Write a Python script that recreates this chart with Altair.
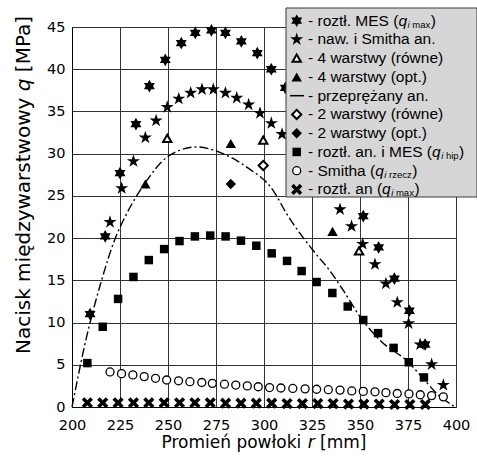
import altair as alt
import pandas as pd

# ---------------- data ----------------
mes_r = [209.4, 217.3, 225.0, 233.3, 240.3, 248.6, 256.9, 264.2, 272.6, 279.9, 288.2, 296.5, 303.8, 311.1,
         351.7, 359.7, 367.9, 375.7, 383.9]
mes_q = [11.0, 20.2, 27.7, 33.5, 38.0, 41.1, 43.1, 44.3, 44.6, 44.3, 43.3, 41.9, 40.0, 37.8,
         22.6, 18.9, 15.2, 11.4, 7.4]

nsa_r = [219.8, 225.9, 232.0, 238.2, 243.8, 249.6, 255.6, 261.8, 267.7, 273.6, 279.9, 285.8, 292.0, 297.9,
         303.8, 309.4, 339.6, 345.6, 351.4, 357.8, 363.5, 369.4, 375.3, 381.3, 387.3, 393.4]
nsa_q = [21.9, 25.9, 29.1, 31.9, 33.9, 35.5, 36.5, 37.2, 37.6, 37.6, 37.2, 36.6, 35.8, 34.8,
         33.6, 32.3, 23.4, 21.4, 19.3, 16.9, 14.6, 12.4, 9.9, 7.4, 5.05, 2.6]

w4eq_r = [249.6, 299.6, 349.5]
w4eq_q = [31.8, 31.6, 18.5]
w4opt_r = [238.2, 282.7, 335.7]
w4opt_q = [26.4, 31.2, 20.8]
w2eq_r = [299.6]
w2eq_q = [28.6]
w2opt_r = [282.7]
w2opt_q = [26.4]

pre_r = [200.0, 207.6, 215.4, 222.4, 228.5, 238.0, 249.6, 264.9, 275.3, 291.0, 304.9, 311.5, 325.7,
         334.4, 341.3, 350.0, 360.4, 375.2, 381.3, 390.0, 399.5]
pre_q = [0.0, 8.3, 15.0, 19.9, 22.9, 26.5, 29.6, 30.8, 30.3, 28.4, 25.6, 23.0, 18.5,
         16.1, 13.8, 10.7, 7.9, 5.3, 3.8, 1.6, 0.0]

hip_r = [208, 216, 224, 232, 240, 248, 256, 264, 272, 280, 288, 296, 304, 312, 319.6, 327.4, 335.6,
         343.6, 351.7, 359.4, 367.5, 375.4, 383.3]
hip_q = [5.2, 9.5, 12.8, 15.4, 17.4, 18.7, 19.65, 20.2, 20.3, 20.2, 19.7, 19.1, 18.2, 17.3, 16.1, 14.8, 13.5,
         11.9, 10.3, 8.75, 7.0, 5.3, 3.5]

rzecz_r = [219.8, 225.8, 231.7, 237.6, 243.5, 249.3, 255.5, 261.4, 267.6, 273.1, 279.4, 285.3, 291.3, 297.0,
           302.9, 308.8, 315.0, 321.4, 327.4, 333.5, 339.6, 345.7, 351.7, 357.8, 363.5, 369.4, 375.5, 381.4,
           387.3, 393.4]
rzecz_q = [4.15, 3.95, 3.8, 3.6, 3.4, 3.2, 3.1, 3.0, 2.9, 2.8, 2.7, 2.6, 2.5, 2.4,
           2.3, 2.25, 2.2, 2.15, 2.1, 2.05, 2.0, 1.9, 1.85, 1.8, 1.7, 1.6, 1.55, 1.45,
           1.35, 1.2]

qmax_r = [208, 216, 224, 232, 240, 248, 256, 264, 272, 280, 288, 296, 304, 312, 320, 328, 336,
          344, 352, 360, 368, 376, 384]
qmax_q = [0.5, 0.5, 0.5, 0.5, 0.5, 0.5, 0.5, 0.5, 0.5, 0.45, 0.45, 0.45, 0.45, 0.4, 0.4, 0.4, 0.4,
          0.35, 0.35, 0.35, 0.3, 0.3, 0.3]

x_ticks = [200, 225, 250, 275, 300, 325, 350, 375, 400]
y_ticks = [0, 5, 10, 15, 20, 25, 30, 35, 40, 45]

x_title = ["Promień powłoki ", "r", " [mm]"]
y_title = ["Nacisk międzywarstwowy ", "q", " [MPa]"]

legend_main = ["- roztł. MES (", "- naw. i Smitha an.", "- 4 warstwy (równe)", "- 4 warstwy (opt.)",
               "- przeprężany an.", "- 2 warstwy (równe)", "- 2 warstwy (opt.)",
               "- roztł. an. i MES (", "- Smitha (", "- roztł. an ("]
legend_sub = ["max", "", "", "", "", "", "", "hip", "rzecz", "max"]

# ---------------- styling ----------------
W, H = 384, 380
AX_FONT = "DejaVu Sans"
LG_FONT = "Liberation Sans"
GRID = "#333333"

HEXAGRAM = ("M0,-1L0.2887,-0.5L0.866,-0.5L0.577,0L0.866,0.5L0.2887,0.5L0,1L-0.2887,0.5"
            "L-0.866,0.5L-0.577,0L-0.866,-0.5L-0.2887,-0.5Z")
STAR5 = ("M0,-1L0.2245,-0.309L0.951,-0.309L0.363,0.118L0.588,0.809L0,0.382L-0.588,0.809"
         "L-0.363,0.118L-0.951,-0.309L-0.2245,-0.309Z")
XMARK = "M-1,-0.55L-0.55,-1L0,-0.45L0.55,-1L1,-0.55L0.45,0L1,0.55L0.55,1L0,0.45L-0.55,1L-1,0.55L-0.45,0Z"

xscale = alt.Scale(domain=[200, 400], nice=False, zero=False)
yscale = alt.Scale(domain=[0, 45], nice=False)
xaxis = alt.Axis(values=x_ticks, grid=True, ticks=False, labelPadding=11, labelFontSize=14.5,
                 labelFont=AX_FONT, labelColor="black", title=None, domainColor="black",
                 gridColor=GRID, gridOpacity=1, gridWidth=1, labelFlush=False)
yaxis = alt.Axis(values=y_ticks, grid=True, ticks=False, labelPadding=7, labelFontSize=14.5,
                 labelFont=AX_FONT, labelColor="black", title=None, domainColor="black",
                 gridColor=GRID, gridOpacity=1, gridWidth=1, labelFlush=False)


def enc(ch):
    return ch.encode(x=alt.X("r:Q", scale=xscale, axis=xaxis), y=alt.Y("q:Q", scale=yscale, axis=yaxis))


def pts(r, q, shape, size, open_=False, sw=1.6):
    df = pd.DataFrame({"r": r, "q": q})
    if open_:
        m = alt.Chart(df).mark_point(shape=shape, size=size, filled=True, fill="white", stroke="black",
                                     strokeWidth=sw, opacity=1)
    else:
        m = alt.Chart(df).mark_point(shape=shape, size=size, filled=True, fill="black", strokeWidth=0,
                                     opacity=1)
    return enc(m)


line = enc(alt.Chart(pd.DataFrame({"r": pre_r, "q": pre_q})).mark_line(
    color="black", strokeWidth=1.4, strokeDash=[9, 3, 2, 3], interpolate="monotone"))

layers = [
    line,
    pts(rzecz_r, rzecz_q, "circle", 64, open_=True, sw=1.3),
    pts(qmax_r, qmax_q, XMARK, 125),
    pts(hip_r, hip_q, "square", 72),
    pts(w2eq_r, w2eq_q, "diamond", 85, open_=True, sw=2),
    pts(w2opt_r, w2opt_q, "diamond", 110),
    pts(w4eq_r, w4eq_q, "triangle-up", 70, open_=True, sw=2),
    pts(w4opt_r, w4opt_q, "triangle-up", 110),
    pts(nsa_r, nsa_q, STAR5, 190),
    pts(mes_r, mes_q, HEXAGRAM, 160),
]

# ---------------- text width helpers (Arial / DejaVu metrics) ----------------
ARIAL = {' ': 278, '-': 333, '(': 333, ')': 333, '.': 278, '[': 278, ']': 278, 'a': 556, 'c': 500,
         'd': 556, 'e': 556, 'ę': 556, 'h': 556, 'i': 222, 'k': 500, 'l': 222, 'ł': 222, 'm': 833,
         'n': 556, 'o': 556, 'p': 556, 'q': 556, 'r': 333, 's': 500, 't': 278, 'w': 722, 'x': 500,
         'y': 500, 'z': 500, 'M': 833, 'E': 667, 'S': 667}
DEJAVU = {' ': 318, '[': 390, ']': 390, 'P': 603, 'r': 411, 'o': 612, 'm': 974, 'i': 278, 'e': 615,
          'ń': 634, 'p': 635, 'w': 818, 'ł': 300, 'k': 579, 'N': 748, 'a': 613, 'c': 550, 's': 521,
          'ę': 615, 'd': 635, 'z': 525, 'y': 592, 't': 392, 'q': 635, 'M': 863}


def tw(s, size, table):
    return sum(table.get(c, 556) for c in s) * size / 1000.0


text_rows = []  # x, y, t, fs, style, angle, font


def add_piece(x, y, s, fs, style, ang, font, table):
    """Add a text piece; leading/trailing spaces are turned into offsets (SVG drops them)."""
    lead = len(s) - len(s.lstrip(" "))
    off = tw(s[:lead], fs, table)
    if ang == 0:
        text_rows.append((x + off, y, s.strip(" "), fs, style, ang, font))
    else:
        text_rows.append((x, y - off, s.strip(" "), fs, style, ang, font))
    return tw(s, fs, table)


# legend
LG_FS, SUB_FS = 15.5, 9.5
row_y = [-6.3 + 18.75 * i for i in range(10)]
TX = 236
for i, (main, sub) in enumerate(zip(legend_main, legend_sub)):
    y = row_y[i]
    x = TX + add_piece(TX, y, main, LG_FS, "normal", 0, "lg", ARIAL)
    if sub:
        x += add_piece(x, y, "q", LG_FS, "italic", 0, "lg", ARIAL) + 0.5
        x += add_piece(x, y + 4, "i", SUB_FS, "italic", 0, "lg", ARIAL)
        x += add_piece(x, y + 4, " " + sub, SUB_FS, "normal", 0, "lg", ARIAL) + 0.5
        add_piece(x, y, ")", LG_FS, "normal", 0, "lg", ARIAL)

# x axis title
XT_FS = 17
xt_w = sum(tw(s, XT_FS, DEJAVU) for s in x_title)
x0 = W / 2 - xt_w / 2
for j, s in enumerate(x_title):
    x0 += add_piece(x0, 421, s, XT_FS, "italic" if j == 1 else "normal", 0, "ax", DEJAVU)

# y axis title (rotated)
YT_FS = 20
yt_w = sum(tw(s, YT_FS, DEJAVU) for s in y_title)
y0 = 157.5 + yt_w / 2
for j, s in enumerate(y_title):
    y0 -= add_piece(-42, y0, s, YT_FS, "italic" if j == 1 else "normal", 270, "ax", DEJAVU)

tdf = pd.DataFrame(text_rows, columns=["tx", "ty", "t", "fs", "style", "ang", "font"])


def text_layer(style, ang, font):
    sub = tdf[(tdf["style"] == style) & (tdf["ang"] == ang) & (tdf["font"] == font)]
    base = "alphabetic" if font == "ax" else "middle"
    return alt.Chart(sub).mark_text(
        align="left", baseline=base, angle=ang, fontStyle=style, color="black",
        font=AX_FONT if font == "ax" else LG_FONT
    ).encode(
        x=alt.X("tx:Q", scale=None, axis=None),
        y=alt.Y("ty:Q", scale=None, axis=None),
        text="t:N",
        size=alt.Size("fs:Q", scale=None, legend=None),
    )


# legend box
box = alt.Chart(pd.DataFrame({"a": [0]})).mark_rect(
    fill="#d6d6d6", stroke="#3a3a3a", strokeWidth=1
).encode(x=alt.value(214), x2=alt.value(405), y=alt.value(-19), y2=alt.value(170))

# legend symbols
sym_shape = [HEXAGRAM, STAR5, "triangle-up", "triangle-up", "", "diamond", "diamond", "square", "circle", XMARK]
sym_fill = ["black", "black", "white", "black", "", "white", "black", "black", "white", "black"]
sym_size = [160, 190, 70, 110, 0, 85, 110, 72, 64, 125]
sym_sw = [0, 0, 2, 0, 0, 2, 0, 0, 1.3, 0]
sdf = pd.DataFrame({"ly": row_y, "shp": sym_shape, "fc": sym_fill, "sz": sym_size, "sw": sym_sw})
sdf = sdf[sdf["shp"] != ""]
syms = alt.Chart(sdf).mark_point(filled=True, stroke="black", opacity=1).encode(
    x=alt.value(224.7),
    y=alt.Y("ly:Q", scale=None, axis=None),
    shape=alt.Shape("shp:N", scale=None, legend=None),
    fill=alt.Fill("fc:N", scale=None, legend=None),
    size=alt.Size("sz:Q", scale=None, legend=None),
    strokeWidth=alt.StrokeWidth("sw:Q", scale=None, legend=None),
)
lg_line = alt.Chart(pd.DataFrame({"a": [0]})).mark_rule(color="black", strokeWidth=1.5).encode(
    x=alt.value(218), x2=alt.value(232), y=alt.value(row_y[4]))

chart = alt.layer(
    *layers, box, syms, lg_line,
    text_layer("normal", 0, "lg"), text_layer("italic", 0, "lg"),
    text_layer("normal", 0, "ax"), text_layer("italic", 0, "ax"),
    text_layer("normal", 270, "ax"), text_layer("italic", 270, "ax"),
).properties(
    width=W, height=H,
    padding={"left": 72, "top": 27, "right": 21, "bottom": 54},
    autosize=alt.AutoSizeParams(type="none"),
    background="white",
).configure_view(stroke=None)

chart.save("out.html", embed_options={"renderer": "svg", "actions": False})
